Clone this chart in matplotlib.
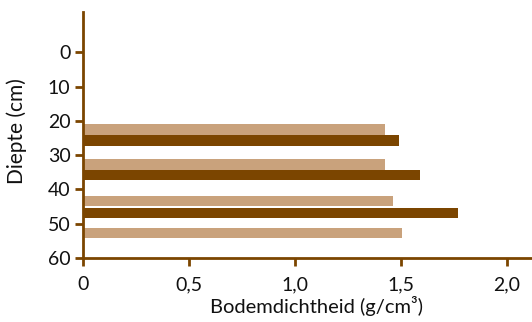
import matplotlib
matplotlib.use("Agg")
import matplotlib.pyplot as plt

# dieptes (cm) en bodemdichtheid (g/cm3)
diepte_licht = [22.5, 32.7, 43.4, 52.7]
dichtheid_licht = [1.42, 1.42, 1.46, 1.50]
diepte_donker = [25.7, 35.9, 46.9]
dichtheid_donker = [1.50, 1.60, 1.78]

y_ticks = [0, 10, 20, 30, 40, 50, 60]
x_ticks = [0, 0.5, 1.0, 1.5, 2.0]
x_labels = ["0", "0,5", "1,0", "1,5", "2,0"]

bruin = "#7b4500"
licht = "#c9a27c"

plt.rcParams["font.family"] = ["Lato", "DejaVu Sans"]

fig = plt.figure(figsize=(5.32, 3.22), dpi=100)
ax = fig.add_axes([0.156, 0.199, 0.844, 0.764])

ax.barh(diepte_licht, dichtheid_licht, height=3.0, color=licht, left=0.005)
ax.barh(diepte_donker, dichtheid_donker, height=3.0, color=bruin, left=-0.008)

ax.set_xlim(0, 2.12)
ax.set_ylim(59.7, -11.8)
ax.set_yticks(y_ticks)
ax.set_xticks(x_ticks)
ax.set_xticklabels(x_labels)

for s in ["top", "right"]:
    ax.spines[s].set_visible(False)
for s in ["left", "bottom"]:
    ax.spines[s].set_color(bruin)
    ax.spines[s].set_linewidth(2)

ax.tick_params(axis="both", colors=bruin, width=2, length=6, labelsize=14,
               labelcolor="#111111")
ax.tick_params(axis="x", pad=7)
ax.tick_params(axis="y", pad=3)

ax.set_xlabel("Bodemdichtheid (g/cm³)", fontsize=14.5, color="#111111")
ax.set_ylabel("Diepte (cm)", fontsize=15, color="#111111")
ax.xaxis.set_label_coords(0.521, -0.155)
ax.yaxis.set_label_coords(-0.125, 0.514)

fig.savefig("out.png", dpi=100)
